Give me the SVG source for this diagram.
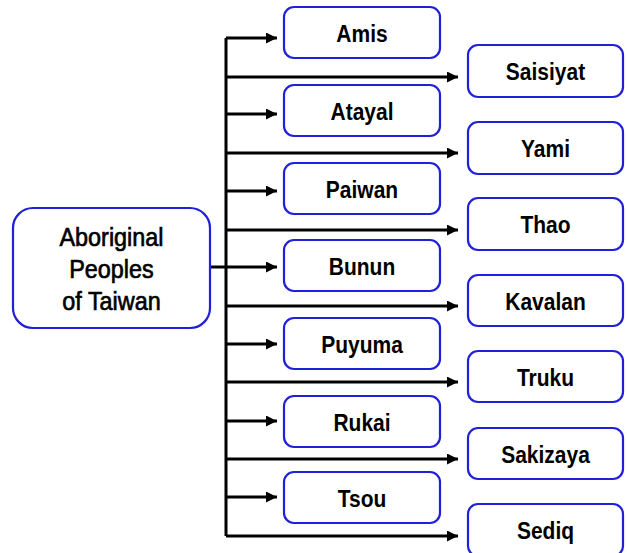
<svg xmlns="http://www.w3.org/2000/svg" width="627" height="553" viewBox="0 0 627 553">
<style>
.box{fill:#fff;stroke:#2020d8;stroke-width:2.2}
.lbl{font-family:"Liberation Sans",Arial,sans-serif;font-weight:bold;font-size:21px;fill:#000;text-anchor:middle}
.root{font-family:"Liberation Sans",Arial,sans-serif;font-size:23.4px;fill:#000;stroke:#000;stroke-width:0.6;text-anchor:middle}
.ln{stroke:#000;stroke-width:3;fill:none}
.arr{stroke:#000;stroke-width:3;fill:none;marker-end:url(#ah)}
</style>
<defs>
<marker id="ah" markerUnits="userSpaceOnUse" markerWidth="11" markerHeight="11" refX="11" refY="5.5" orient="auto" viewBox="0 0 11 11">
<path d="M0,0 L11,5.5 L0,11 z" fill="#000"/>
</marker>
</defs>
<rect width="627" height="553" fill="#fff"/>
<g id="connectors">
<path class="ln" d="M226,38 V536"/>
<path class="ln" d="M210,267 H226"/>
<path class="arr" d="M226,38 H277"/>
<path class="arr" d="M226,114 H277"/>
<path class="arr" d="M226,191 H277"/>
<path class="arr" d="M226,267 H277"/>
<path class="arr" d="M226,344 H277"/>
<path class="arr" d="M226,421 H277"/>
<path class="arr" d="M226,497 H277"/>
<path class="arr" d="M226,77 H458"/>
<path class="arr" d="M226,153 H458"/>
<path class="arr" d="M226,230 H458"/>
<path class="arr" d="M226,306 H458"/>
<path class="arr" d="M226,382 H458"/>
<path class="arr" d="M226,459 H458"/>
<path class="arr" d="M226,536 H458"/>
</g>
<g id="root">
<rect class="box" x="13" y="208" width="197" height="120" rx="20"/>
<text class="root" transform="translate(111.5,246) scale(1,1.07)">Aboriginal</text>
<text class="root" transform="translate(111.5,278) scale(1,1.07)">Peoples</text>
<text class="root" transform="translate(111.5,310) scale(1,1.07)">of Taiwan</text>
</g>
<g id="amis"><rect class="box" x="284" y="7" width="156" height="51" rx="10"/><text class="lbl" transform="translate(362,42) scale(1,1.12)">Amis</text></g>
<g id="atayal"><rect class="box" x="284" y="85" width="156" height="51" rx="10"/><text class="lbl" transform="translate(362,120) scale(1,1.12)">Atayal</text></g>
<g id="paiwan"><rect class="box" x="284" y="163" width="156" height="51" rx="10"/><text class="lbl" transform="translate(362,198) scale(1,1.12)">Paiwan</text></g>
<g id="bunun"><rect class="box" x="284" y="240" width="156" height="51" rx="10"/><text class="lbl" transform="translate(362,275) scale(1,1.12)">Bunun</text></g>
<g id="puyuma"><rect class="box" x="284" y="318" width="156" height="51" rx="10"/><text class="lbl" transform="translate(362,353) scale(1,1.12)">Puyuma</text></g>
<g id="rukai"><rect class="box" x="284" y="396" width="156" height="51" rx="10"/><text class="lbl" transform="translate(362,431) scale(1,1.12)">Rukai</text></g>
<g id="tsou"><rect class="box" x="284" y="472" width="156" height="51" rx="10"/><text class="lbl" transform="translate(362,507) scale(1,1.12)">Tsou</text></g>
<g id="saisiyat"><rect class="box" x="468" y="45" width="155" height="52" rx="10"/><text class="lbl" transform="translate(545.5,80) scale(1,1.12)">Saisiyat</text></g>
<g id="yami"><rect class="box" x="468" y="122" width="155" height="52" rx="10"/><text class="lbl" transform="translate(545.5,157) scale(1,1.12)">Yami</text></g>
<g id="thao"><rect class="box" x="468" y="198" width="155" height="52" rx="10"/><text class="lbl" transform="translate(545.5,233) scale(1,1.12)">Thao</text></g>
<g id="kavalan"><rect class="box" x="468" y="275" width="155" height="51" rx="10"/><text class="lbl" transform="translate(545.5,310) scale(1,1.12)">Kavalan</text></g>
<g id="truku"><rect class="box" x="468" y="351" width="155" height="51" rx="10"/><text class="lbl" transform="translate(545.5,386) scale(1,1.12)">Truku</text></g>
<g id="sakizaya"><rect class="box" x="468" y="428" width="155" height="51" rx="10"/><text class="lbl" transform="translate(545.5,463) scale(1,1.12)">Sakizaya</text></g>
<g id="sediq"><rect class="box" x="468" y="504" width="155" height="52" rx="10"/><text class="lbl" transform="translate(545.5,539) scale(1,1.12)">Sediq</text></g>
</svg>
